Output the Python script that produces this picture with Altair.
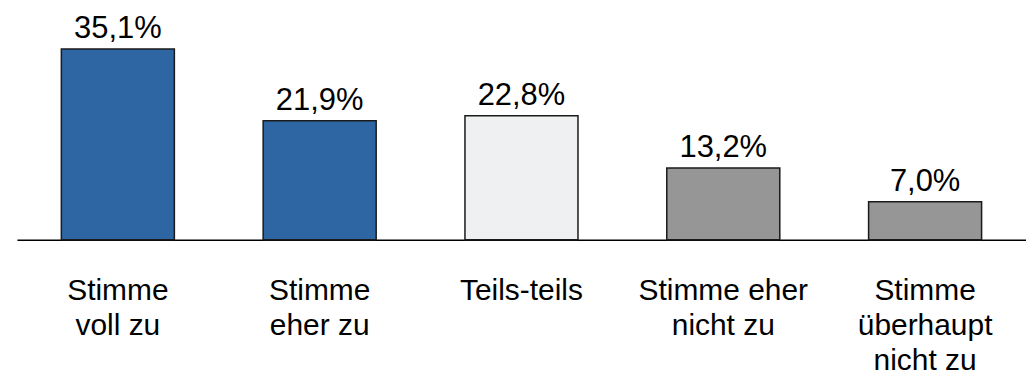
import altair as alt
import pandas as pd

categories = ["Stimme\nvoll zu", "Stimme\neher zu", "Teils-teils", "Stimme eher\nnicht zu", "Stimme\nüberhaupt\nnicht zu"]
values = [35.1, 21.9, 22.8, 13.2, 7.0]
colors = ["#2E66A4", "#2E66A4", "#EEF0F1", "#969696", "#969696"]

df = pd.DataFrame({
    "cat": categories,
    "val": values,
    "col": colors,
    "lbl": [f"{v:.1f}".replace(".", ",") + "%" for v in values],
})

FONT = "Liberation Sans"

x = alt.X("cat:N", sort=categories,
          scale=alt.Scale(paddingInner=0.44, paddingOuter=0.22),
          axis=alt.Axis(title=None, ticks=False, domain=True, domainColor="#000000",
                        domainWidth=1.5, labelAngle=0, labelFontSize=30, labelFont=FONT,
                        labelColor="#000000", labelPadding=36, labelLineHeight=35,
                        labelExpr="split(datum.label, '\\n')", labelBaseline="top",
                        grid=False))
y = alt.Y("val:Q", scale=alt.Scale(domain=[0, 44], nice=False), axis=None)

base = alt.Chart(df)
bars = base.mark_bar(stroke="#1a1a1a", strokeWidth=1.5).encode(
    x=x, y=y, color=alt.Color("col:N", scale=None))
text = base.mark_text(baseline="alphabetic", dy=-11, fontSize=31, font=FONT, color="#000000").encode(
    x=x, y=y, text="lbl:N")

chart = (bars + text).properties(
    width=1012, height=240,
    background="#ffffff",
    autosize=alt.AutoSizeParams(type="none"),
    padding={"left": 17, "top": 0, "right": 0, "bottom": 141},
).configure_view(strokeWidth=0, stroke=None)

chart.save("out.html", embed_options={"renderer": "svg", "actions": False})
